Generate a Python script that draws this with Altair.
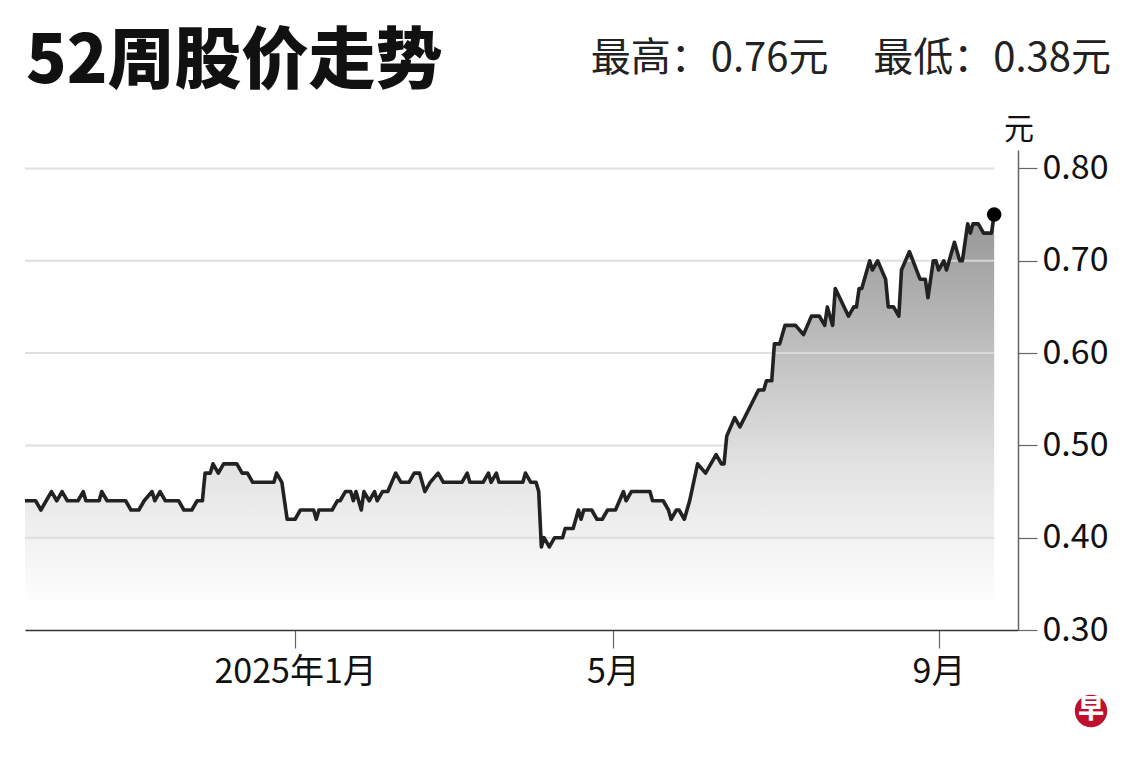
import altair as alt
import pandas as pd

dates = [
    "2024-09-21", "2024-09-25", "2024-09-27", "2024-09-29", "2024-10-01", "2024-10-03", "2024-10-05",
    "2024-10-07", "2024-10-11", "2024-10-13", "2024-10-14", "2024-10-19", "2024-10-20", "2024-10-22",
    "2024-10-29", "2024-10-31", "2024-11-03", "2024-11-05", "2024-11-08", "2024-11-09", "2024-11-11",
    "2024-11-13", "2024-11-18", "2024-11-20", "2024-11-23", "2024-11-25", "2024-11-27", "2024-11-28",
    "2024-11-30", "2024-12-01", "2024-12-03", "2024-12-05", "2024-12-10", "2024-12-12", "2024-12-14",
    "2024-12-16", "2024-12-24", "2024-12-25", "2024-12-27", "2024-12-29", "2025-01-01", "2025-01-03",
    "2025-01-08", "2025-01-09", "2025-01-10", "2025-01-15", "2025-01-17", "2025-01-18", "2025-01-20",
    "2025-01-22", "2025-01-23", "2025-01-24", "2025-01-26", "2025-01-27", "2025-01-29", "2025-01-31",
    "2025-02-01", "2025-02-03", "2025-02-05", "2025-02-08", "2025-02-10", "2025-02-13", "2025-02-15",
    "2025-02-17", "2025-02-19", "2025-02-21", "2025-02-24", "2025-02-26", "2025-03-05", "2025-03-07",
    "2025-03-08", "2025-03-13", "2025-03-15", "2025-03-16", "2025-03-18", "2025-03-19", "2025-03-28",
    "2025-03-29", "2025-03-31", "2025-04-02", "2025-04-03", "2025-04-04", "2025-04-05", "2025-04-07",
    "2025-04-09", "2025-04-12", "2025-04-13", "2025-04-16", "2025-04-18", "2025-04-19", "2025-04-20",
    "2025-04-23", "2025-04-25", "2025-04-27", "2025-04-29", "2025-05-02", "2025-05-05", "2025-05-06",
    "2025-05-08", "2025-05-15", "2025-05-16", "2025-05-20", "2025-05-22", "2025-05-23", "2025-05-25",
    "2025-05-26", "2025-05-28", "2025-05-30", "2025-06-02", "2025-06-05", "2025-06-09", "2025-06-11",
    "2025-06-12", "2025-06-13", "2025-06-16", "2025-06-18", "2025-06-25", "2025-06-27", "2025-06-28",
    "2025-06-30", "2025-07-01", "2025-07-03", "2025-07-05", "2025-07-09", "2025-07-12", "2025-07-15",
    "2025-07-18", "2025-07-20", "2025-07-21", "2025-07-23", "2025-07-24", "2025-07-29", "2025-07-31",
    "2025-08-01", "2025-08-02", "2025-08-03", "2025-08-06", "2025-08-07", "2025-08-09", "2025-08-12",
    "2025-08-13", "2025-08-15", "2025-08-17", "2025-08-18", "2025-08-21", "2025-08-25", "2025-08-27",
    "2025-08-28", "2025-08-30", "2025-08-31", "2025-09-01", "2025-09-03", "2025-09-04", "2025-09-07",
    "2025-09-09", "2025-09-10", "2025-09-12", "2025-09-13", "2025-09-14", "2025-09-16", "2025-09-18",
    "2025-09-21", "2025-09-22",
]

prices = [
    0.44, 0.44, 0.43, 0.44, 0.45, 0.44, 0.45,
    0.44, 0.44, 0.45, 0.44, 0.44, 0.45, 0.44,
    0.44, 0.43, 0.43, 0.44, 0.45, 0.44, 0.45,
    0.44, 0.44, 0.43, 0.43, 0.44, 0.44, 0.47,
    0.47, 0.48, 0.47, 0.48, 0.48, 0.47, 0.47,
    0.46, 0.46, 0.47, 0.46, 0.42, 0.42, 0.43,
    0.43, 0.42, 0.43, 0.43, 0.44, 0.44, 0.45,
    0.45, 0.44, 0.45, 0.43, 0.45, 0.44, 0.45,
    0.44, 0.45, 0.45, 0.47, 0.46, 0.46, 0.47,
    0.47, 0.45, 0.46, 0.47, 0.46, 0.46, 0.47,
    0.46, 0.46, 0.47, 0.46, 0.47, 0.46, 0.46,
    0.47, 0.46, 0.46, 0.45, 0.39, 0.40, 0.39,
    0.40, 0.40, 0.41, 0.41, 0.43, 0.42, 0.43,
    0.43, 0.42, 0.42, 0.43, 0.43, 0.45, 0.44,
    0.45, 0.45, 0.44, 0.44, 0.43, 0.42, 0.43,
    0.43, 0.42, 0.44, 0.48, 0.47, 0.49, 0.48,
    0.48, 0.51, 0.53, 0.52, 0.56, 0.56, 0.57,
    0.57, 0.61, 0.61, 0.63, 0.63, 0.62, 0.64,
    0.64, 0.63, 0.65, 0.63, 0.67, 0.64, 0.65,
    0.65, 0.67, 0.67, 0.70, 0.69, 0.70, 0.68,
    0.65, 0.65, 0.64, 0.69, 0.71, 0.68, 0.68,
    0.66, 0.70, 0.70, 0.69, 0.70, 0.69, 0.72,
    0.70, 0.70, 0.74, 0.73, 0.74, 0.74, 0.73,
    0.73, 0.75,
]

y_ticks = [0.30, 0.40, 0.50, 0.60, 0.70, 0.80]
grid_levels = [0.40, 0.50, 0.60, 0.70, 0.80]
x_tick_dates = [(2025, 1, 1), (2025, 5, 1), (2025, 9, 1)]
x_tick_labels = ["2025年1月", "5月", "9月"]

title_text = "52周股价走势"
summary_text = "最高：0.76元\u00a0\u00a0\u00a0\u00a0\u00a0最低：0.38元"
unit_text = "元"
logo_text = "早"

FONT = "Noto Sans CJK SC"

df = pd.DataFrame({"date": pd.to_datetime(dates), "price": prices})
df_last = df.tail(1)
df_grid = pd.DataFrame({
    "y": grid_levels,
    "x": [df["date"].iloc[0]] * len(grid_levels),
    "x2": [df["date"].iloc[-1]] * len(grid_levels),
})

# label expression built from the tick label list
expr = "''"
for (yy, mm, dd), lab in reversed(list(zip(x_tick_dates, x_tick_labels))):
    expr = f"(year(datum.value)=={yy} && month(datum.value)=={mm - 1}) ? '{lab}' : {expr}"

x_scale = alt.Scale(domain=[alt.DateTime(year=2024, month=9, date=21),
                            alt.DateTime(year=2025, month=10, date=1)])
y_scale = alt.Scale(domain=[0.30, 0.82], zero=False, nice=False)

x_enc = alt.X(
    "date:T", scale=x_scale, title=None,
    axis=alt.Axis(
        values=[alt.DateTime(year=y, month=m, date=d) for (y, m, d) in x_tick_dates],
        labelExpr=expr, grid=False, domainColor="#333333", domainWidth=1.5,
        tickColor="#666666", tickSize=18, tickWidth=1.2, zindex=2,
        labelFont=FONT, labelFontSize=34, labelColor="#111111", labelPadding=7,
    ),
)
y_enc = alt.Y(
    "price:Q", scale=y_scale, title=None,
    axis=alt.Axis(
        orient="right", values=y_ticks, format=".2f", grid=False, zindex=2,
        domainColor="#666666", domainWidth=1.5, tickColor="#666666", tickSize=19,
        tickWidth=1.2, labelFont=FONT, labelFontSize=34, labelColor="#111111",
        labelPadding=5,
    ),
)

area = alt.Chart(df).mark_area(
    line=False,
    color=alt.Gradient(
        gradient="linear", x1=0, y1=0, x2=0, y2=1,
        stops=[
            alt.GradientStop(offset=0.0, color="#969696"),
            alt.GradientStop(offset=0.3, color="#bcbcbc"),
            alt.GradientStop(offset=0.6, color="#e2e2e2"),
            alt.GradientStop(offset=0.8, color="#f3f3f3"),
            alt.GradientStop(offset=0.95, color="#ffffff"),
            alt.GradientStop(offset=1.0, color="#ffffff"),
        ],
    ),
).encode(x=x_enc, y=y_enc, y2=alt.datum(0.30))

grid = alt.Chart(df_grid).mark_rule(color="#dcdcdc", strokeWidth=2, opacity=0.9).encode(
    x=alt.X("x:T", scale=x_scale), x2="x2:T", y=alt.Y("y:Q", scale=y_scale)
)

line = alt.Chart(df).mark_line(color="#222222", strokeWidth=3.6, strokeJoin="round").encode(
    x=alt.X("date:T", scale=x_scale), y=alt.Y("price:Q", scale=y_scale)
)

dot = alt.Chart(df_last).mark_circle(color="#000000", opacity=1, size=210).encode(
    x=alt.X("date:T", scale=x_scale), y=alt.Y("price:Q", scale=y_scale)
)

title = alt.Chart(pd.DataFrame({"t": [title_text]})).mark_text(
    font=FONT, fontSize=67, fontWeight=900, align="left", baseline="middle", color="#111111"
).encode(x=alt.value(1), y=alt.value(-87), text="t:N")

summary = alt.Chart(pd.DataFrame({"t": [summary_text]})).mark_text(
    font=FONT, fontSize=40, align="right", baseline="middle", color="#222222"
).encode(x=alt.value(1086), y=alt.value(-91), text="t:N")

unit = alt.Chart(pd.DataFrame({"t": [unit_text]})).mark_text(
    font=FONT, fontSize=30, align="center", baseline="middle", color="#111111"
).encode(x=alt.value(994), y=alt.value(-20), text="t:N")

logo_bg = alt.Chart(pd.DataFrame({"t": [logo_text]})).mark_circle(
    color="#c0102f", opacity=1, size=1050
).encode(x=alt.value(1066), y=alt.value(561))

logo_txt = alt.Chart(pd.DataFrame({"t": [logo_text]})).mark_text(
    font=FONT, fontSize=26, fontWeight=900, align="center", baseline="middle", color="#ffffff"
).encode(x=alt.value(1066), y=alt.value(560), text="t:N")

chart = alt.layer(area, grid, line, dot, title, summary, unit, logo_bg, logo_txt).properties(
    width=993, height=480,
    autosize=alt.AutoSizeParams(type="none"),
    padding={"left": 17, "top": 142, "right": 110, "bottom": 112},
    background="#ffffff",
).configure_view(stroke=None)

chart.save("out.html", embed_options={"renderer": "svg", "actions": False})
